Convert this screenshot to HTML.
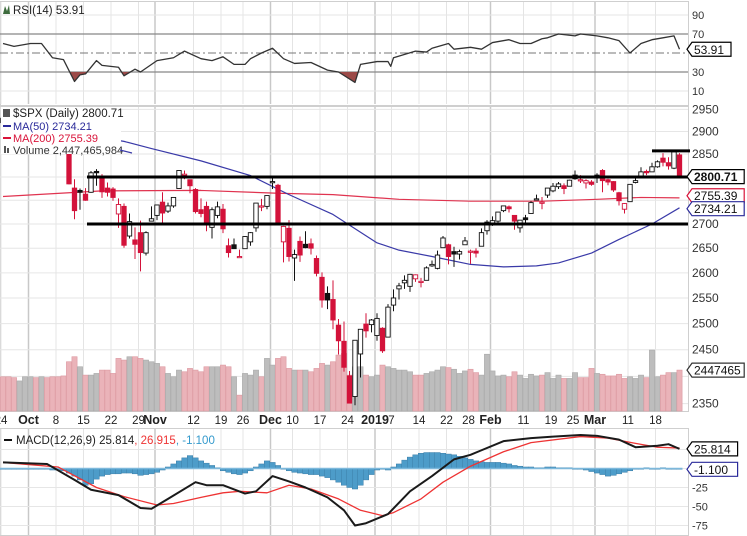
<!DOCTYPE html>
<html><head><meta charset="utf-8"><style>
html,body{margin:0;padding:0;background:#fff;}
svg{display:block;font-family:"Liberation Sans",sans-serif;}
</style></head><body>
<svg id="c" width="747" height="536" viewBox="0 0 747 536" xmlns="http://www.w3.org/2000/svg"></svg>
<script>
// ---- data ----
const dates = ["Sep24","Sep25","Sep26","Sep27","Sep28","Oct1","Oct2","Oct3","Oct4","Oct5","Oct8","Oct9",
"Oct10","Oct11","Oct12","Oct15","Oct16","Oct17","Oct18","Oct19","Oct22","Oct23","Oct24","Oct25","Oct26","Oct29","Oct30","Oct31",
"Nov1","Nov2","Nov5","Nov6","Nov7","Nov8","Nov9","Nov12","Nov13","Nov14","Nov15","Nov16","Nov19","Nov20","Nov21","Nov23","Nov26","Nov27","Nov28","Nov29","Nov30",
"Dec3","Dec4","Dec6","Dec7","Dec10","Dec11","Dec12","Dec13","Dec14","Dec17","Dec18","Dec19","Dec20","Dec21","Dec24","Dec26","Dec27","Dec28","Dec31",
"Jan2","Jan3","Jan4","Jan7","Jan8","Jan9","Jan10","Jan11","Jan14","Jan15","Jan16","Jan17","Jan18","Jan22","Jan23","Jan24","Jan25","Jan28","Jan29","Jan30","Jan31",
"Feb1","Feb4","Feb5","Feb6","Feb7","Feb8","Feb11","Feb12","Feb13","Feb14","Feb15","Feb19","Feb20","Feb21","Feb22","Feb25","Feb26","Feb27","Feb28",
"Mar1","Mar4","Mar5","Mar6","Mar7","Mar8","Mar11","Mar12","Mar13","Mar14","Mar15","Mar18","Mar19","Mar20","Mar21","Mar22"];
const opens = [2930,2920,2916,2906,2914,2924,2923,2926,2920,2902,2886,2884,
2873,2776,2771,2763,2767,2812,2802,2776,2774,2721,2737,2675,2667,2682,2640,2706,
2718,2746,2727,2738,2775,2806,2794,2773,2730,2737,2693,2718,2731,2655,2657,2633,2649,2663,2692,2737,2737,
2790,2782,2663,2691,2630,2664,2658,2659,2629,2591,2559,2547,2497,2466,2401,2363,2442,2499,2498,
2477,2491,2474,2536,2568,2580,2573,2588,2581,2585,2614,2609,2651,2657,2643,2638,2657,2644,2644,2654,2686,
2702,2706,2728,2736,2718,2692,2713,2722,2752,2744,2761,2770,2779,2781,2780,2804,2793,2787,2789,
2798,2814,2794,2790,2766,2731,2747,2788,2800,2812,2811,2822,2841,2831,2819,2848];
const highs = [2931,2924,2920,2917,2916,2937,2929,2939,2920,2905,2895,2894,
2874,2795,2775,2776,2813,2817,2806,2788,2778,2754,2743,2722,2693,2707,2685,2737,
2741,2767,2745,2757,2815,2814,2794,2776,2754,2747,2735,2747,2742,2670,2670,2647,2675,2683,2744,2753,2760,
2800,2785,2696,2708,2647,2674,2685,2670,2635,2601,2573,2585,2509,2504,2410,2467,2489,2520,2509,
2520,2493,2538,2567,2580,2595,2598,2597,2590,2613,2625,2645,2675,2659,2653,2647,2673,2647,2650,2691,2708,
2716,2725,2738,2739,2718,2708,2719,2748,2762,2757,2776,2787,2789,2786,2794,2814,2804,2795,2793,
2808,2817,2796,2791,2768,2744,2784,2799,2821,2816,2831,2836,2852,2843,2860,2852];
const lows = [2913,2912,2903,2903,2904,2917,2912,2919,2878,2874,2868,2874,
2784,2710,2730,2749,2766,2781,2755,2758,2749,2692,2651,2670,2628,2603,2635,2706,
2708,2700,2723,2734,2775,2795,2765,2722,2714,2685,2670,2712,2681,2631,2649,2631,2649,2655,2684,2727,2731,
2774,2697,2621,2623,2584,2622,2650,2637,2593,2531,2528,2489,2441,2409,2351,2347,2398,2473,2483,
2467,2444,2474,2524,2547,2568,2562,2582,2571,2585,2612,2607,2651,2617,2612,2627,2657,2618,2631,2654,2678,
2696,2700,2725,2724,2688,2682,2703,2722,2751,2731,2755,2767,2774,2763,2781,2794,2787,2775,2781,
2787,2767,2782,2768,2739,2722,2747,2786,2800,2804,2811,2820,2823,2816,2817,2801];
const closes = [2920,2916,2906,2914,2914,2924,2923,2926,2902,2886,2884,2881,
2785,2728,2767,2750,2809,2809,2768,2767,2756,2741,2656,2705,2658,2641,2682,2711,
2740,2723,2738,2756,2814,2806,2781,2726,2722,2702,2730,2736,2690,2641,2649,2633,2674,2682,2744,2738,2760,
2790,2700,2695,2633,2637,2636,2651,2650,2599,2546,2546,2507,2467,2417,2351,2468,2489,2486,2507,
2510,2448,2532,2550,2574,2585,2597,2596,2583,2610,2617,2636,2671,2633,2638,2643,2665,2644,2640,2682,2704,
2707,2725,2738,2732,2706,2708,2709,2745,2753,2746,2776,2780,2785,2775,2793,2796,2794,2792,2784,
2804,2792,2789,2772,2749,2743,2784,2792,2811,2809,2822,2833,2832,2824,2855,2801];
const volumes = [2.05,2.05,2.0,1.8,2.05,2.05,2.0,2.05,2.0,2.05,2.05,2.1,
2.95,3.25,2.65,2.15,2.15,2.25,2.45,2.45,2.25,3.15,3.05,3.25,3.25,3.15,3.05,2.95,
2.85,2.65,2.25,2.05,2.45,2.35,2.55,2.45,2.35,2.65,2.65,2.65,2.75,2.65,2.05,0.95,2.25,2.15,2.45,2.05,3.15,
2.75,3.15,3.25,2.55,2.45,2.45,2.45,2.35,2.55,2.85,2.75,2.95,3.35,3.45,2.15,2.65,2.65,2.15,2.05,
2.15,2.75,2.65,2.55,2.45,2.45,2.35,2.15,2.15,2.25,2.35,2.45,2.65,2.6,2.5,2.25,2.4,2.5,2.3,2.15,3.4,
2.4,2.1,2.15,2.05,2.35,2.15,1.95,2.2,2.1,2.15,2.3,1.95,2.15,1.95,1.95,2.3,2.0,2.0,2.55,
2.25,2.2,2.1,2.1,2.2,1.95,2.05,1.95,2.15,2.0,3.65,2.05,2.15,2.3,2.3,2.45];
const ma50Days = [16,22,27,36,45,52,60,68,72,78,85,91,97,101,107,112,118,123];
const ma50Vals = [2890,2878,2862,2835,2803,2762,2720,2661,2646,2633,2617,2612,2614,2620,2640,2668,2700,2734];
const ma200Days = [0,18,36,50,60,72,85,98,108,116,123];
const ma200Vals = [2758,2770,2771,2765,2762,2752,2748,2748,2752,2756,2755];
const levelLines = [2800,2700];
const levelStart = [16,16];
const topLevel = 2857;
const priceTicks = [2950,2900,2850,2800,2750,2700,2650,2600,2550,2500,2450,2400,2350];
const priceTickLabels = ["2950","2900","2850","","","2700","2650","2600","2550","2500","2450","","2350"];
const rsiDays = [0,2,5,7,9,11,13,14,15,17,18,21,22,24,25,28,31,33,36,38,40,42,44,45,47,49,51,53,56,59,61,64,65,68,70,70.5,71,75,77,78,81,82,85,87,89,92,94,96,98,99,101,104,105,108,110,112,114,116,118,120,122,123];
const rsiVals = [60,57,60,60,45,43,20,27,28,42,37,35,26,33,30,42,45,52,44,42,46,38,38,44,50,55,44,39,40,32,30,19,38,41,41,36,45,52,51,55,60,54,56,54,61,64,60,60,65,66,70,68,70,68,66,63,50,60,64,66,68,53.91];
const macdDays = [0,8,13,16,21,25,27,30,35,37,40,44,46,49,52,55,59,62,64,66,70,74,78,82,85,87,91,96,100,105,108,112,115,119,121,123];
const macdVals = [8,6,-15,-28,-35,-52,-53,-40,-18,-22,-22,-33,-30,-10,-17,-25,-38,-55,-75,-72,-60,-30,-10,12,18,24,36,40,42,44,43,38,28,30,32,25.8];
const signalDays = [0,10,17,22,28,31,36,40,43,48,52,56,61,65,69,71,76,80,85,91,96,105,110,115,119,123];
const signalVals = [8,2,-25,-37,-48,-46,-38,-32,-30,-32,-22,-27,-40,-55,-62,-58,-40,-18,3,22,34,42,40,33,28,26.9];
const histVals = [0,0,-1,-1,-1,0,-1,-1,-1,-2,-2,
-3,-6,-10,-15, -22,-20,-14, -10,-8,-7,-7,-6,-6,-7, -9,-8,-7,-5,-2,
2,6,10,14,17,14,10, 7,4,1,-3,-5,-7,-8,-6, -3,2,6,10,8,4,
0,-3,-5,-6,-7,-8,-8, -10,-12,-15,-18,-22,-25,-27, -22,-15,-8, -2,0,-2,2,
6,11,15,18,20,21,21, 21,20,19,18,16,14,12,10, 9,8,8,8,7,6,4,3,2,
2,1,1,2,2,1,1,1,0,-1,-2,-4,-6,-8,-10, -9,-7,-5,-3,-1,0,1,0, -1,1,0,-1,-1];
const dateLabelDays = [0,5,10,15,20,25,28,35,40,44,49,53,58,63,68,71,76,81,85,89,95,100,104,108,114,119];
const dateLabels = ["24","Oct","8","15","22","29","Nov","12","19","26","Dec","10","17","24","2019","7","14","22","28","Feb","11","19","25","Mar","11","18"];
const boldLabels = ["Oct","Nov","Dec","2019","Feb","Mar"];
const rsiTicks = [90,70,30,10];
const macdTicks = [-25,-50,-75];

// ---- scales ----
const PR = 688;
const xc = i => 3 + i*5.5;
const yP = p => 224 - 1294*Math.log(p/2700);
const yV = v => 411 - v*16.7;
const yR = v => 53 - (v-50)*0.95;
const yM = v => 468.5 - v*0.76;

const svg = document.getElementById('c');
const NS = 'http://www.w3.org/2000/svg';
function mk(tag, attrs, parent){
  const e = document.createElementNS(NS, tag);
  for (const k in attrs) e.setAttribute(k, attrs[k]);
  (parent||svg).appendChild(e);
  return e;
}
function txt(s, attrs, parent){ const t = mk('text', attrs, parent); t.textContent = s; return t; }

const panels = [[0,1,104],[0,106,305],[0,428,107]];
panels.forEach((p,k)=>{
  const r = mk('rect',{x:0.5,y:p[1]+0.5,width:PR,height:p[2],fill:'#fff',stroke:'#cfcfcf'});
  
  
});

const gGrid = mk('g',{});


dateLabelDays.forEach((d,k)=>{
  const x = xc(d)-2;
  const bold = boldLabels.includes(dateLabels[k]);
  [[2,104],[107,411],[429,535]].forEach(r=>{
    mk('line',{x1:x,x2:x,y1:r[0],y2:r[1],stroke:bold?'#c8c8c8':'#e4e4e4','stroke-width':bold?1.5:1},gGrid);
  });
});

priceTicks.forEach((p,k)=>{
  const y = yP(p);
  const l = mk('line',{x1:0,x2:PR,y1:y,y2:y,stroke:'#e6e6e6'});
  
  
  if (priceTickLabels[k]) {
    const t = txt(priceTickLabels[k],{x:692,y:y+4,'font-size':12,fill:'#333'});
    
    
  }
});

const gVol = mk('g',{});


volumes.forEach((v,i)=>{
  const down = i>0 ? closes[i] < closes[i-1] : true;
  const b = mk('rect',{x:xc(i)-2.6,y:yV(v),width:5.2,height:411-yV(v),fill:down?'#eab3b9':'#bdbdbd',stroke:down?'#dc98a0':'#a9a9a9','stroke-width':0.6},gVol);
  
  
});

function polyline(days, vals, yf, color, name, w){
  const pts = days.map((d,k)=> xc(d)+','+yf(vals[k])).join(' ');
  const pl = mk('polyline',{points:pts,fill:'none',stroke:color,'stroke-width':w||1.2,'stroke-linejoin':'round'});
  
  
  return pl;
}
polyline(ma200Days, ma200Vals, yP, '#e0334f', 'ma200-line');
polyline(ma50Days, ma50Vals, yP, '#3a3aa8', 'ma50-line');

const gC = mk('g',{});


for (let i=0;i<closes.length;i++){
  const down = i>0 ? closes[i] < closes[i-1] : false;
  const col = down ? '#d3123a' : '#111';
  const hollow = closes[i] >= opens[i];
  const x = xc(i);
  const g = mk('g',{},gC);
  
  
  mk('line',{x1:x,x2:x,y1:yP(highs[i]),y2:yP(lows[i]),stroke:col,'stroke-width':1},g);
  const yt = yP(Math.max(opens[i],closes[i])), yb = yP(Math.min(opens[i],closes[i]));
  mk('rect',{x:x-2.2,y:yt,width:4.4,height:Math.max(1.2,yb-yt),fill:hollow?'#fff':col,stroke:col,'stroke-width':0.9},g);
}

levelLines.forEach((p,k)=>{
  const l = mk('line',{x1:xc(levelStart[k])-4,x2:PR,y1:yP(p),y2:yP(p),stroke:'#000','stroke-width':3});
  
  
});
const tl = mk('line',{x1:xc(118),x2:PR+2,y1:yP(topLevel),y2:yP(topLevel),stroke:'#000','stroke-width':3});



const leg = mk('g',{});


mk('rect',{x:1,y:107,width:120,height:47,fill:'#fff'},leg);
txt('$SPX (Daily) 2800.71',{x:13,y:117,'font-size':11.5,fill:'#222'},leg);
mk('rect',{x:3,y:109,width:7,height:8,fill:'#555'},leg);
txt('MA(50) 2734.21',{x:13,y:130,'font-size':11,fill:'#2a2a9a'},leg);
mk('line',{x1:3,x2:11,y1:126,y2:126,stroke:'#2a2a9a','stroke-width':2},leg);
txt('MA(200) 2755.39',{x:13,y:142,'font-size':11,fill:'#d9143a'},leg);
mk('line',{x1:3,x2:11,y1:138,y2:138,stroke:'#d9143a','stroke-width':2},leg);
txt('Volume 2,447,465,984',{x:13,y:154,'font-size':11,fill:'#333'},leg);
mk('rect',{x:4,y:146,width:2,height:7,fill:'#555'},leg);
mk('rect',{x:7,y:148,width:2,height:5,fill:'#555'},leg);
mk('line',{x1:120,x2:132,y1:150,y2:153,stroke:'#3a3aa8','stroke-width':1.2},leg);

function tag(s, yc, color, name, bold){
  const g = mk('g',{});
  
  
  const w = s.length*6.6+6;
  mk('path',{d:`M${PR-1} ${yc} L${PR+4} ${yc-7} H${PR+4+w} V${yc+7} H${PR+4} Z`,fill:'#fff',stroke:color,'stroke-width':1.2},g);
  txt(s,{x:PR+6,y:yc+4.5,'font-size':12,'font-weight':bold?'bold':'normal',fill:'#111'},g);
}
tag('2800.71', yP(2800.71), '#000', 'last-price-tag', true);
tag('2755.39', yP(2755.39)-2, '#d9143a', 'ma200-tag');
tag('2734.21', yP(2734.21)+1, '#2a2a9a', 'ma50-tag');
tag('2447465', yV(2.447), '#333', 'volume-tag');

[10,90].forEach(v=>{ mk('line',{x1:0,x2:PR,y1:yR(v),y2:yR(v),stroke:'#e6e6e6'}); });
[30,70].forEach(v=>{
  const l = mk('line',{x1:0,x2:PR,y1:yR(v),y2:yR(v),stroke:'#888','stroke-width':1.2});
  
  
});
const mid = mk('line',{x1:0,x2:PR,y1:yR(50),y2:yR(50),stroke:'#777','stroke-dasharray':'8,3,2,3'});


rsiTicks.forEach(v=>{
  const t = txt(String(v),{x:692,y:yR(v)+4,'font-size':11,fill:'#333'});
  
  
});
const cp = mk('clipPath',{id:'below30'});
mk('rect',{x:0,y:yR(30),width:PR,height:40},cp);
const rsiPts = rsiDays.map((d,k)=> xc(d)+','+yR(rsiVals[k]));
const fill = mk('polygon',{points: xc(rsiDays[0])+','+yR(30)+' '+rsiPts.join(' ')+' '+xc(rsiDays[rsiDays.length-1])+','+yR(30),fill:'#9c4a48','clip-path':'url(#below30)'});


polyline(rsiDays, rsiVals, yR, '#333', 'rsi-line', 1.3);
const rl = mk('g',{});


mk('path',{d:'M3 14 L5 6 L7 11 L9 5 L10 14 Z',fill:'#3d6b3d'},rl);
txt('RSI(14) 53.91',{x:13,y:14,'font-size':11.5,fill:'#222'},rl);
tag('53.91', yR(53.91), '#000', 'rsi-value-tag');

dateLabels.forEach((s,k)=>{
  const bold = boldLabels.includes(s);
  const t = txt(s,{x:xc(dateLabelDays[k])-2,y:424,'font-size':bold?12.5:11.5,'font-weight':bold?'bold':'normal','text-anchor':'middle',fill:'#222'});
  
  
});

[25,0,-25,-50,-75].forEach(v=>{ mk('line',{x1:0,x2:PR,y1:yM(v),y2:yM(v),stroke:'#e6e6e6'}); });
macdTicks.forEach(v=>{
  const t = txt(String(v),{x:692,y:yM(v)+4,'font-size':11,fill:'#333'});
  
  
});
const gH = mk('g',{});


histVals.forEach((v,i)=>{
  const y0 = yM(0), y1 = yM(v);
  const r = mk('rect',{x:xc(i)-2.75,y:Math.min(y0,y1),width:5.5,height:Math.max(0.8,Math.abs(y1-y0)),fill:'#4d9cc9',stroke:'#3a7ea8','stroke-width':0.5},gH);
  
  
});
const z = mk('line',{x1:0,x2:xc(123)+3,y1:yM(0),y2:yM(0),stroke:'#7db8db','stroke-width':1.5});


polyline(signalDays, signalVals, yM, '#ee3333', 'macd-signal-line', 1.3);
polyline(macdDays, macdVals, yM, '#1a1a1a', 'macd-line', 2);
const ml = mk('g',{});


mk('line',{x1:4,x2:12,y1:440,y2:440,stroke:'#111','stroke-width':2},ml);
const mt = txt('',{x:16,y:444,'font-size':11.5,fill:'#222'},ml);
const s1 = mk('tspan',{},mt); s1.textContent='MACD(12,26,9) 25.814';
const s2 = mk('tspan',{fill:'#ee3333'},mt); s2.textContent=', 26.915';
const s3 = mk('tspan',{fill:'#3399cc'},mt); s3.textContent=', -1.100';
tag('25.814', yM(25.814), '#000', 'macd-value-tag');
tag('-1.100', yM(-1.1), '#2a2a9a', 'histogram-value-tag');
</script>
</body></html>
